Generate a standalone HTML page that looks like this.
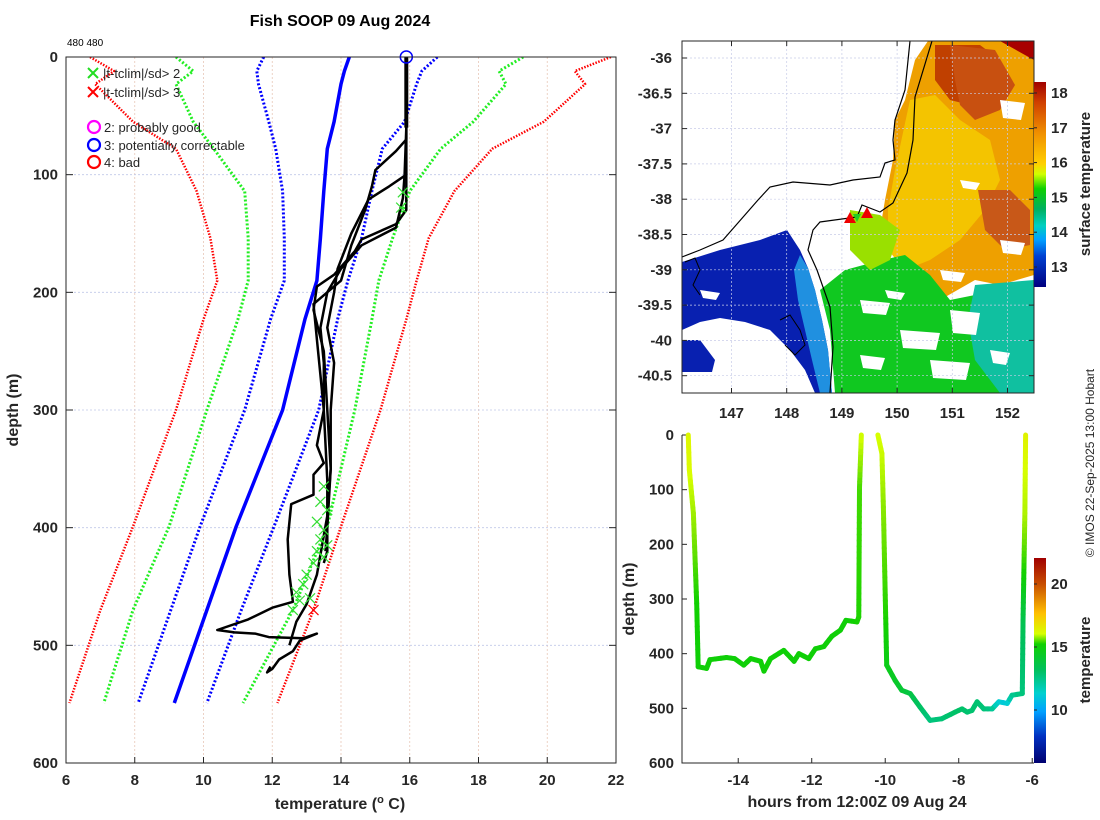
<!DOCTYPE html>
<html><head><meta charset="utf-8"><style>
html,body{margin:0;padding:0;background:#fff;}
svg{display:block;font-family:"Liberation Sans",sans-serif;}
.tk{font-weight:bold;font-size:15px;fill:#262626;}
</style></head><body>
<svg id="fig" width="1100" height="820" viewBox="0 0 1100 820">
<defs>
<linearGradient id="cb1" x1="0" y1="0" x2="0" y2="1">
<stop offset="0" stop-color="#a00000"/><stop offset="0.1" stop-color="#d04000"/><stop offset="0.25" stop-color="#f09000"/><stop offset="0.4" stop-color="#ffd000"/><stop offset="0.45" stop-color="#d0ff00"/><stop offset="0.52" stop-color="#10d000"/><stop offset="0.62" stop-color="#00b060"/><stop offset="0.7" stop-color="#00d0c0"/><stop offset="0.77" stop-color="#00a0ff"/><stop offset="0.85" stop-color="#0040d0"/><stop offset="1" stop-color="#00007f"/>
</linearGradient>
<linearGradient id="cb2" x1="0" y1="0" x2="0" y2="1">
<stop offset="0" stop-color="#a00000"/><stop offset="0.13" stop-color="#c85000"/><stop offset="0.27" stop-color="#ffc000"/><stop offset="0.37" stop-color="#d8ff00"/><stop offset="0.42" stop-color="#10d000"/><stop offset="0.55" stop-color="#00c060"/><stop offset="0.66" stop-color="#00d0d0"/><stop offset="0.75" stop-color="#00a0ff"/><stop offset="0.87" stop-color="#0030c0"/><stop offset="1" stop-color="#00006f"/>
</linearGradient>
<clipPath id="mapclip"><rect x="682" y="41" width="352" height="352"/></clipPath>
<clipPath id="leftclip"><rect x="66" y="57" width="550" height="706"/></clipPath>
</defs>
<text x="340" y="26" text-anchor="middle" font-size="16" font-weight="bold" fill="#000">Fish SOOP 09 Aug 2024</text>
<text x="67" y="46" font-size="10" fill="#000">480 480</text>
<g id="left"></g>
<g id="map"></g>
<g id="track"></g>
<text transform="translate(1094,463) rotate(-90)" text-anchor="middle" font-size="12" fill="#262626">© IMOS 22-Sep-2025 13:00 Hobart</text>
</svg>
<script>
// ---------- LEFT PROFILE DATA ----------
const climDepths=[0,12,23,55,78,114,154,190,223,300,399,470,549];
const redLeft=[6.7,7.4,6.85,7.95,9.2,9.8,10.2,10.4,10.0,9.2,7.95,7.0,6.1];
const greenLeft=[9.2,9.7,9.2,9.7,10.3,11.2,11.3,11.3,11.0,10.1,9.0,7.95,7.1];
const blueLeft=[11.75,11.55,11.6,11.9,12.1,12.3,12.35,12.35,11.95,11.2,9.9,9.05,8.1];
const climMean=[14.24,14.1,14.0,13.8,13.6,13.5,13.4,13.3,12.95,12.3,10.95,10.1,9.15];
const blueRight=[16.8,16.35,16.2,15.85,15.2,14.9,14.6,14.2,13.9,13.35,12.05,11.1,10.1];
const greenRight=[19.3,18.6,18.8,17.85,16.9,16.0,15.5,15.1,14.9,14.4,13.6,12.6,11.15];
const redRight=[21.85,20.8,21.1,19.9,18.4,17.3,16.55,16.2,15.9,15.15,14.0,13.2,12.15];
const prof1Depth=[0,60,100,120,145,160,180,200,230,260,300,330,345,355,372,380,410,440,463,468,478,487,489,490,493,494,490,496,505,512,520,523,518];
const prof1Temp=[15.9,15.9,15.85,15.8,15.6,14.6,14.0,13.6,13.4,13.5,13.5,13.3,13.5,13.2,13.2,12.55,12.45,12.5,12.6,12.0,11.3,10.4,10.9,11.5,11.9,12.9,13.3,12.8,12.6,12.2,12.0,11.85,11.95];
const prof2Depth=[0,70,80,96,110,130,160,190,210,240,270,300,360,420,430];
const prof2Temp=[15.9,15.9,15.6,15.0,14.9,14.7,14.3,14.0,13.2,13.3,13.4,13.5,13.6,13.6,13.5];
const prof3Depth=[0,100,110,121,150,180,200,230,260,300,350,400,420];
const prof3Temp=[15.9,15.9,15.4,14.8,14.3,13.9,13.8,13.6,13.8,13.7,13.7,13.6,13.55];
const prof4Depth=[0,130,142,155,165,185,195,215,250,300,350,390,440,465,470,480,500];
const prof4Temp=[15.9,15.9,15.6,14.6,14.4,13.8,13.3,13.2,13.5,13.6,13.7,13.6,13.3,13.0,12.9,12.7,12.5];
const flag2Temp=[15.8,15.75,13.5,13.4,13.6,13.3,13.5,13.4,13.6,13.3,13.5,13.2,13.0,12.9,12.7,12.8,12.6,13.1];
const flag2Depth=[115,128,365,378,385,395,402,410,415,420,425,430,440,448,455,462,470,460];
const flag3Temp=[13.2];
const flag3Depth=[470];
const tempTicks=[6,8,10,12,14,16,18,20,22];
const depthTicks=[0,100,200,300,400,500,600];

// ---------- TRACK DATA ----------
const trackHours=[-15.36,-15.33,-15.22,-15.13,-15.09,-14.86,-14.77,-14.32,-14.1,-13.85,-13.66,-13.39,-13.3,-13.12,-12.76,-12.48,-12.35,-12.08,-11.9,-11.67,-11.45,-11.22,-11.07,-10.77,-10.72,-10.7,-10.65,null,-10.2,-10.09,-10.05,-9.96,-9.73,-9.55,-9.32,-9.05,-8.78,-8.46,-8.1,-7.91,-7.77,-7.64,-7.5,-7.32,-7.09,-6.91,-6.68,-6.55,-6.27,-6.25,-6.2,-6.18];
const trackDepths=[0,64,143,308,424,427,411,407,409,421,409,414,432,409,394,414,400,409,391,387,368,357,339,342,333,96,0,null,0,34,132,421,449,467,473,498,522,519,507,501,507,504,488,501,501,488,491,476,473,339,143,0];
const trackTemps=[16.2,16.1,15.5,14.3,14.2,14.2,14.2,14.2,14.2,14.2,14.2,14.2,14.2,14.2,14.2,14.2,14.2,14.2,14.2,14.2,14.2,14.2,14.2,14.3,14.4,14.7,16.0,null,16.0,15.9,15.3,14.0,13.8,13.6,13.4,13.0,12.6,12.7,12.9,12.9,12.8,12.8,12.8,12.7,12.5,11.5,11.2,12.3,12.6,13.2,15.6,16.3];
const hourTicks=[-14,-12,-10,-8,-6];
const trackDepthTicks=[0,100,200,300,400,500,600];
const cb1Ticks=[13,14,15,16,17,18];
const cb2Ticks=[10,15,20];
const lonTicks=[147,148,149,150,151,152];
const latTicks=[-36,-36.5,-37,-37.5,-38,-38.5,-39,-39.5,-40,-40.5];

const NS='http://www.w3.org/2000/svg';
function mk(tag,attrs,parent,txt){const e=document.createElementNS(NS,tag);for(const k in attrs)e.setAttribute(k,attrs[k]);if(txt!==undefined)e.textContent=txt;parent.appendChild(e);return e;}

// ===== LEFT PLOT =====
const L=document.getElementById('left');
const lx=t=>66+(t-6)*(550/16);
const ly=d=>57+d*(706/600);
tempTicks.forEach(t=>{
  const g=mk('line',{x1:lx(t),x2:lx(t),y1:57,y2:763,stroke:'#e8c8b8','stroke-width':0.8,'stroke-dasharray':'2 2'},L);
  
  
  mk('line',{x1:lx(t),x2:lx(t),y1:763,y2:757,stroke:'#262626'},L);
  const lb=mk('text',{x:lx(t),y:785,'text-anchor':'middle',class:'tk'},L,String(t));
  
  
});
depthTicks.forEach(d=>{
  const g=mk('line',{x1:66,x2:616,y1:ly(d),y2:ly(d),stroke:'#c0c8e8',"stroke-width":0.8,'stroke-dasharray':'2 2'},L);
  
  
  mk('line',{x1:66,x2:73,y1:ly(d),y2:ly(d),stroke:'#262626'},L);
  mk('line',{x1:616,x2:609,y1:ly(d),y2:ly(d),stroke:'#262626'},L);
  const lb=mk('text',{x:58,y:ly(d)+5,'text-anchor':'end',class:'tk'},L,String(d));
  
  
});
const LC=mk('g',{'clip-path':'url(#leftclip)'},L);
function poly(ts,ds,attrs,name){
  let pts=[];for(let i=0;i<ts.length;i++)pts.push(lx(ts[i]).toFixed(1)+','+ly(ds[i]).toFixed(1));
  const p=mk('polyline',Object.assign({points:pts.join(' '),fill:'none','stroke-linejoin':'round'},attrs),LC);
  
  
}
poly(redLeft,climDepths,{stroke:'#ff0000','stroke-width':2.5,'stroke-dasharray':'1.5 1.5'},'clim-minus-3sd');
poly(greenLeft,climDepths,{stroke:'#22ee22','stroke-width':3,'stroke-dasharray':'2 2'},'clim-minus-2sd');
poly(blueLeft,climDepths,{stroke:'#0000ff','stroke-width':3,'stroke-dasharray':'2 2'},'clim-minus-1sd');
poly(climMean,climDepths,{stroke:'#0000ff','stroke-width':3.5},'clim-mean');
poly(blueRight,climDepths,{stroke:'#0000ff','stroke-width':3,'stroke-dasharray':'2 2'},'clim-plus-1sd');
poly(greenRight,climDepths,{stroke:'#22ee22','stroke-width':3,'stroke-dasharray':'2 2'},'clim-plus-2sd');
poly(redRight,climDepths,{stroke:'#ff0000','stroke-width':2.5,'stroke-dasharray':'1.5 1.5'},'clim-plus-3sd');
poly(prof1Temp,prof1Depth,{stroke:'#000','stroke-width':2.5},'profile-1');
poly(prof2Temp,prof2Depth,{stroke:'#000','stroke-width':2.5},'profile-2');
poly(prof3Temp,prof3Depth,{stroke:'#000','stroke-width':2.5},'profile-3');
poly(prof4Temp,prof4Depth,{stroke:'#000','stroke-width':2.5},'profile-4');
mk('line',{x1:lx(15.9),x2:lx(15.9),y1:ly(0),y2:ly(60),stroke:'#000','stroke-width':4},LC);
function xmark(t,d,col,name){
  const x=lx(t),y=ly(d),s=5;
  const p=mk('path',{d:`M${x-s},${y-s}L${x+s},${y+s}M${x-s},${y+s}L${x+s},${y-s}`,stroke:col,'stroke-width':1.2,fill:'none'},LC);
  
  
}
flag2Temp.forEach((t,i)=>xmark(t,flag2Depth[i],'#33dd33','flag-2sd-marker'));
flag3Temp.forEach((t,i)=>xmark(t,flag3Depth[i],'#ff0000','flag-3sd-marker'));
const qc=mk('circle',{cx:lx(15.9),cy:ly(0),r:6,fill:'none',stroke:'#0000ff','stroke-width':1.5},L);


mk('rect',{x:66,y:57,width:550,height:706,fill:'none',stroke:'#262626','stroke-width':1},L);
// legend
const LG=mk('g',{},L);


[['|t-tclim|/sd> 2','#22dd22',73],['|t-tclim|/sd> 3','#ff0000',92]].forEach(a=>{
  mk('path',{d:`M88,${a[2]-5}L98,${a[2]+5}M88,${a[2]+5}L98,${a[2]-5}`,stroke:a[1],'stroke-width':2},LG);
  const t=mk('text',{x:103,y:a[2]+5,'font-size':13,fill:'#262626'},LG,a[0]);
  
  
});
[['2: probably good','#ff00ff',127],['3: potentially correctable','#0000ff',145],['4: bad','#ff0000',162]].forEach(a=>{
  mk('circle',{cx:94,cy:a[2],r:6,fill:'none',stroke:a[1],'stroke-width':2.2},LG);
  const t=mk('text',{x:104,y:a[2]+5,'font-size':13,fill:'#262626'},LG,a[0]);
  
  
});
const yl=mk('text',{transform:'translate(18,410) rotate(-90)','text-anchor':'middle','font-size':16,'font-weight':'bold',fill:'#262626'},L,'depth (m)');


const xl=mk('text',{x:340,y:809,'text-anchor':'middle','font-size':16,'font-weight':'bold',fill:'#262626'},L);


xl.innerHTML='temperature (<tspan dy="-6" font-size="11">o</tspan><tspan dy="6"> C)</tspan>';

// ===== MAP =====
const M=document.getElementById('map');
const mxf=lon=>731.5+(lon-147)*55.2;
const myf=lat=>58+(-36-lat)*70.6;
const MC=mk('g',{'clip-path':'url(#mapclip)'},M);
mk('rect',{x:682,y:41,width:352,height:352,fill:'#fff'},MC);
function blob(pts,fill,name){const p=mk('polygon',{points:pts,fill:fill},MC);}
blob('928,41 1034,41 1034,275 1000,285 975,280 940,300 925,280 905,275 890,250 880,230 885,200 893,160 895,120 905,100 915,60','#eea000','warm-water');
blob('910,100 935,95 960,120 990,140 1000,180 985,210 960,240 930,260 905,270 888,250 888,210 895,170','#f4c400','yellow-water');
blob('1000,41 1034,41 1034,60','#a80000','hot-corner');
blob('935,45 980,45 1000,60 1010,90 990,110 950,100 935,80','#c04000','warm-core-north');
blob('950,45 995,50 1015,85 1000,110 975,120 960,105 955,80','#c85010','warm-core-n2');
blob('978,190 1010,190 1030,210 1030,245 1005,250 985,230','#c85818','warm-core-east');
blob('882,260 905,255 930,275 950,300 1000,290 1034,280 1034,393 835,393 830,330 820,290 845,270','#10c820','green-water');
blob('975,285 1034,280 1034,393 1000,393 975,360 968,320','#10c0a0','teal-water');
blob('850,210 880,215 900,230 890,260 870,270 850,250','#9ae000','yellowgreen-patch');
blob('682,262 720,250 760,240 787,230 800,250 808,268 815,290 822,320 828,350 832,393 815,393 805,370 790,350 770,330 745,322 720,318 700,322 682,330','#0820b0','cold-water');
blob('682,340 700,340 715,360 712,372 682,372','#0820b0','cold-water-2');
blob('800,255 808,268 815,290 822,320 828,350 832,393 820,393 812,360 805,330 798,300 794,270','#2090e0','cyan-front');
[[860,300,30,15],[900,330,40,20],[950,310,30,25],[860,355,25,15],[930,360,40,20],[990,350,20,15],[885,290,20,10],[940,270,25,12],[1000,240,25,15],[1000,100,25,20],[720,330,30,15],[760,345,25,15],[700,290,20,10],[960,180,20,10]].forEach(b=>{
  blob(`${b[0]},${b[1]} ${b[0]+b[2]},${b[1]+3} ${b[0]+b[2]-4},${b[1]+b[3]} ${b[0]+3},${b[1]+b[3]-2}`,'#fff','cloud-gap');
});
latTicks.forEach(l=>mk('line',{x1:682,x2:1034,y1:myf(l),y2:myf(l),stroke:'#c8cce8','stroke-width':0.7,'stroke-dasharray':'2 2'},MC));
lonTicks.forEach(l=>mk('line',{x1:mxf(l),x2:mxf(l),y1:41,y2:393,stroke:'#c8cce8','stroke-width':0.7,'stroke-dasharray':'2 2'},MC));
const c1=mk('polyline',{points:'910,41 905,90 895,120 893,140 895,160 885,163 880,177 853,180 830,185 793,182 770,187 758,200 723,240 700,250 682,257',fill:'none',stroke:'#000','stroke-width':1.2},MC);


const c2=mk('polyline',{points:'932,41 915,97 913,140 907,173 893,203 880,212 862,205 857,217 820,222 813,230 808,250 817,270 830,307 833,347 830,393',fill:'none',stroke:'#000','stroke-width':1.2},MC);


mk('polyline',{points:'685,262 695,258 700,270 693,285 700,295',fill:'none',stroke:'#000','stroke-width':1},MC);
mk('polyline',{points:'780,320 790,315 800,330 805,345 795,355 785,345',fill:'none',stroke:'#000','stroke-width':1},MC);
[[850,218],[867,213]].forEach(p=>{const t=mk('polygon',{points:`${p[0]-6},${p[1]+5} ${p[0]+6},${p[1]+5} ${p[0]},${p[1]-6}`,fill:'#ee0000'},MC);});
mk('polygon',{points:'853,214 861,214 857,222',fill:'#22cc22'},MC);
mk('rect',{x:682,y:41,width:352,height:352,fill:'none',stroke:'#262626'},M);
lonTicks.forEach(l=>{mk('line',{x1:mxf(l),x2:mxf(l),y1:41,y2:46,stroke:'#262626'},M);mk('line',{x1:mxf(l),x2:mxf(l),y1:393,y2:388,stroke:'#262626'},M);
  const t=mk('text',{x:mxf(l),y:418,'text-anchor':'middle',class:'tk'},M,String(l));});
latTicks.forEach(l=>{mk('line',{x1:682,x2:687,y1:myf(l),y2:myf(l),stroke:'#262626'},M);mk('line',{x1:1034,x2:1029,y1:myf(l),y2:myf(l),stroke:'#262626'},M);
  const t=mk('text',{x:672,y:myf(l)+5,'text-anchor':'end',class:'tk'},M,String(l));});
const cb1y=v=>93+(18-v)*34.8;
const cbar1=mk('rect',{x:1034,y:82,width:12,height:205,fill:'url(#cb1)'},M);


cb1Ticks.forEach(v=>{mk('line',{x1:1034,x2:1037,y1:cb1y(v),y2:cb1y(v),stroke:'#262626'},M);
  const t=mk('text',{x:1051,y:cb1y(v)+5,class:'tk'},M,String(v));});
const cbt1=mk('text',{transform:'translate(1090,184) rotate(-90)','text-anchor':'middle','font-size':15,'font-weight':'bold',fill:'#262626'},M,'surface temperature');



// ===== TRACK PLOT =====
const T=document.getElementById('track');
const tx=h=>682+(h+15.53)*36.75;
const ty=d=>435+d*(328/600);
function tcol(v){
  const st=[[6,[0,0,111]],[8,[0,48,192]],[10,[0,160,255]],[11.5,[0,208,208]],[13,[0,192,96]],[14.3,[16,208,0]],[15.2,[130,230,0]],[16,[216,255,0]],[17.5,[255,192,0]],[20,[200,80,0]],[22,[160,0,0]]];
  for(let i=0;i<st.length-1;i++){if(v<=st[i+1][0]){const f=Math.max(0,(v-st[i][0])/(st[i+1][0]-st[i][0]));const c=st[i][1].map((a,k)=>Math.round(a+(st[i+1][1][k]-a)*f));return `rgb(${c})`;}}
  return 'rgb(160,0,0)';
}
hourTicks.forEach(h=>{mk('line',{x1:tx(h),x2:tx(h),y1:763,y2:758,stroke:'#262626'},T);
  const t=mk('text',{x:tx(h),y:785,'text-anchor':'middle',class:'tk'},T,String(h));});
trackDepthTicks.forEach(d=>{mk('line',{x1:682,x2:687,y1:ty(d),y2:ty(d),stroke:'#262626'},T);
  const t=mk('text',{x:674,y:ty(d)+5,'text-anchor':'end',class:'tk'},T,String(d));});
for(let i=0;i<trackHours.length-1;i++){
  if(trackHours[i]===null||trackHours[i+1]===null)continue;
  const x1=tx(trackHours[i]),y1=ty(trackDepths[i]),x2=tx(trackHours[i+1]),y2=ty(trackDepths[i+1]);
  const n=Math.max(1,Math.ceil(Math.hypot(x2-x1,y2-y1)/6));
  for(let k=0;k<n;k++){
    const f0=k/n,f1=(k+1)/n;
    const v=trackTemps[i]+(trackTemps[i+1]-trackTemps[i])*(f0+f1)/2;
    const s=mk('line',{x1:x1+(x2-x1)*f0,y1:y1+(y2-y1)*f0,x2:x1+(x2-x1)*f1,y2:y1+(y2-y1)*f1,stroke:tcol(v),'stroke-width':5,'stroke-linecap':'round'},T);
    
    
  }
}
mk('polyline',{points:'682,435 682,763 1034,763',fill:'none',stroke:'#262626'},T);
const cb2y=v=>584+(20-v)*12.6;
const cbar2=mk('rect',{x:1034,y:558,width:12,height:205,fill:'url(#cb2)'},T);


cb2Ticks.forEach(v=>{mk('line',{x1:1034,x2:1037,y1:cb2y(v),y2:cb2y(v),stroke:'#262626'},T);
  const t=mk('text',{x:1051,y:cb2y(v)+5,class:'tk'},T,String(v));});
const cbt2=mk('text',{transform:'translate(1090,660) rotate(-90)','text-anchor':'middle','font-size':15,'font-weight':'bold',fill:'#262626'},T,'temperature');


const tyl=mk('text',{transform:'translate(634,599) rotate(-90)','text-anchor':'middle','font-size':16,'font-weight':'bold',fill:'#262626'},T,'depth (m)');


const txl=mk('text',{x:857,y:807,'text-anchor':'middle','font-size':16,'font-weight':'bold',fill:'#262626'},T,'hours from 12:00Z 09 Aug 24');


</script>
</body></html>
